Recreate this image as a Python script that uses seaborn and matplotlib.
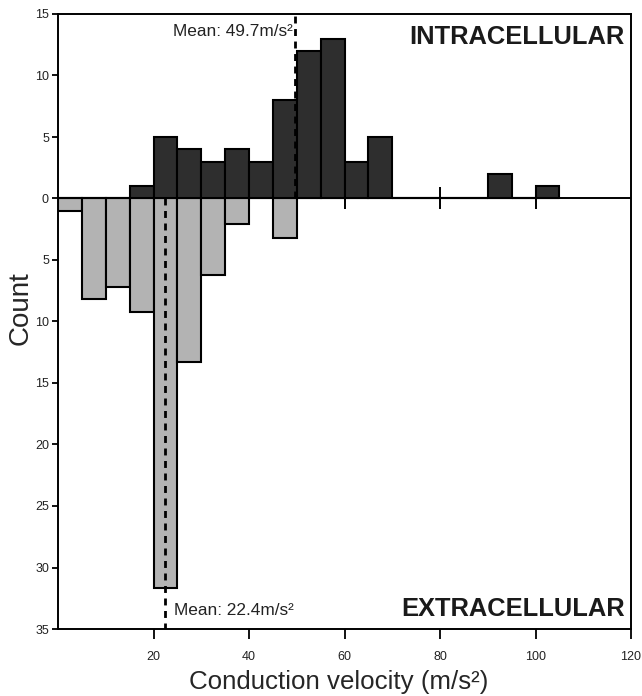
import numpy as np
import pandas as pd
import seaborn as sns
import matplotlib
matplotlib.use("Agg")
import matplotlib.pyplot as plt

# ---- data ----
bin_edges = [0, 5, 10, 15, 20, 25, 30, 35, 40, 45, 50, 55, 60, 65, 70,
             75, 80, 85, 90, 95, 100, 105]
intra_counts = [0, 0, 0, 1, 5, 4, 3, 4, 3, 8, 12, 13, 3, 5, 0, 0, 0, 0, 2, 0, 1]
extra_counts = [1.0, 8.2, 7.2, 9.2, 31.7, 13.3, 6.2, 2.1, 0, 3.2, 0, 0, 0, 0, 0,
                0, 0, 0, 0, 0, 0]
intra_mean = 49.7
extra_mean = 22.4
x_ticks = [20, 40, 60, 80, 100, 120]
y_ticks = [-35, -30, -25, -20, -15, -10, -5, 0, 5, 10, 15]

sns.set_theme(style="ticks")
plt.rcParams["font.family"] = ["Liberation Sans", "DejaVu Sans"]

fig = plt.figure(figsize=(6.42, 6.96), dpi=100)
ax = fig.add_axes([58 / 642, 1 - 629 / 696, (631 - 58) / 642, (629 - 14) / 696])

edges = [float(e) for e in bin_edges]
centers = [(a + b) / 2 for a, b in zip(edges[:-1], edges[1:])]
df_in = pd.DataFrame({"x": centers, "w": intra_counts})
df_ex = pd.DataFrame({"x": centers, "w": [-v for v in extra_counts]})

# zero line with crossing ticks
ax.axhline(0, color="black", lw=1.4, zorder=1)
ax.plot(x_ticks[:-1], [0] * (len(x_ticks) - 1), ls="none", marker="|",
        ms=16, mew=1.4, color="black", zorder=1)

sns.histplot(data=df_ex, x="x", weights="w", bins=edges, ax=ax,
             color="#b3b3b3", edgecolor="black", linewidth=1.5, alpha=1,
             zorder=2)
sns.histplot(data=df_in, x="x", weights="w", bins=edges, ax=ax,
             color="#2e2e2e", edgecolor="black", linewidth=1.5, alpha=1,
             zorder=2)

# mean lines
ax.plot([intra_mean, intra_mean], [0, 15], ls=(0, (2.5, 2)), lw=2,
        color="black", zorder=3)
ax.plot([extra_mean, extra_mean], [0, -35], ls=(0, (2.5, 2)), lw=2,
        color="black", zorder=3)
ax.text(intra_mean - 0.6, 13.6, "Mean: 49.7m/s\u00b2", ha="right", va="center",
        fontsize=12.4, color="#222222")
ax.text(extra_mean + 1.9, -33.5, "Mean: 22.4m/s\u00b2", ha="left", va="center",
        fontsize=12.4, color="#222222")
ax.text(118.7, 13.1, "INTRACELLULAR", ha="right", va="center",
        fontsize=18.4, fontweight="bold", color="#1a1a1a")
ax.text(118.7, -33.4, "EXTRACELLULAR", ha="right", va="center",
        fontsize=18.4, fontweight="bold", color="#1a1a1a")

ax.set_xlim(0, 120)
ax.set_ylim(-35, 15)
ax.set_xticks(x_ticks)
ax.set_xticklabels([str(t) for t in x_ticks])
ax.set_yticks(y_ticks)
ax.set_yticklabels([str(abs(t)) for t in y_ticks])
ax.tick_params(axis="both", labelsize=9, width=1.3, color="black",
               labelcolor="#222222")
ax.tick_params(axis="x", length=7.5, pad=8)
ax.tick_params(axis="y", length=4.5, pad=2)
for s in ax.spines.values():
    s.set_linewidth(1.4)
    s.set_color("black")
    s.set_visible(True)

ax.set_xlabel("Conduction velocity (m/s\u00b2)", fontsize=18.6)
ax.set_ylabel("Count", fontsize=20)
ax.xaxis.set_label_coords(0.49, -0.066)
ax.yaxis.set_label_coords(-0.042, 0.522)

fig.savefig("out.png", dpi=100)
